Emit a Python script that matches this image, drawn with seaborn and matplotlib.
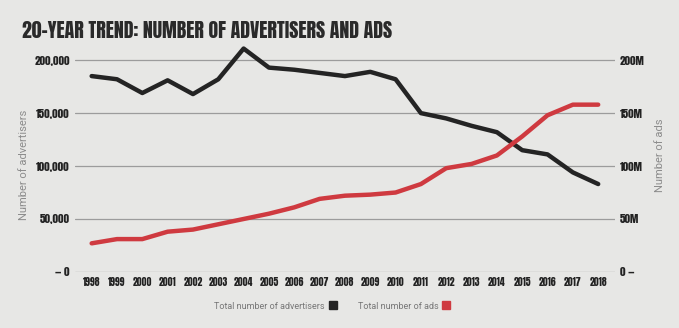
import matplotlib
matplotlib.use('Agg')
import matplotlib.pyplot as plt
import seaborn as sns
import pandas as pd
from matplotlib.lines import Line2D

# ---- data ----
years = list(range(1998, 2019))
advertisers = [185000, 182000, 169000, 181000, 168000, 182000, 211000, 193000,
               191000, 188000, 185000, 189000, 182000, 150000, 145000, 138000,
               132000, 115000, 111000, 94000, 83000]
ads_millions = [27, 31, 31, 38, 40, 45, 50, 55, 61, 69, 72, 73, 75, 83, 98,
                102, 110, 128, 148, 158, 158]
left_ticks = [0, 50000, 100000, 150000, 200000]
left_labels = ['— 0', '50,000', '100,000', '150,000', '200,000']
right_ticks = [0, 50, 100, 150, 200]
right_labels = ['0 —', '50M', '100M', '150M', '200M']
title = '20-YEAR TREND: NUMBER OF ADVERTISERS AND ADS'
legend_labels = ['Total number of advertisers', 'Total number of ads']

df = pd.DataFrame({'year': years, 'advertisers': advertisers, 'ads': ads_millions})

sns.set_theme(style='white')
plt.rcParams['font.family'] = ['Roboto', 'DejaVu Sans']
cond = ['Anton', 'Roboto Condensed', 'DejaVu Sans']

bg = '#e7e7e5'
black = '#242424'
red = '#cf3a40'

fig = plt.figure(figsize=(6.79, 3.28), dpi=100, facecolor=bg)
ax = fig.add_axes([0.110, 0.171, 0.796, 0.71])
ax.set_facecolor(bg)

sns.lineplot(data=df, x='year', y='advertisers', ax=ax, color=black, lw=3.2,
             legend=False)
ax2 = ax.twinx()
sns.lineplot(data=df, x='year', y='ads', ax=ax2, color=red, lw=3.2, legend=False)

ax.set_xlim(1997.33, 2018.67)
ax.set_ylim(0, 220000)
ax2.set_ylim(0, 220)

ax.set_yticks(left_ticks)
ax.set_yticklabels(left_labels, fontfamily=cond, fontsize=8, color='#222222')
ax2.set_yticks(right_ticks)
ax2.set_yticklabels(right_labels, fontfamily=cond, fontsize=8, color='#222222')
ax.set_xticks(years)
ax.set_xticklabels([str(y) for y in years], fontfamily=cond, fontsize=7,
                   color='#222222')

ax.tick_params(axis='both', length=0, pad=3.5)
ax2.tick_params(axis='both', length=0, pad=3.5)
ax.grid(axis='y', color='#9c9c9c', lw=0.9)
ax.grid(axis='x', visible=False)
ax2.grid(False)
for a in (ax, ax2):
    for s in a.spines.values():
        s.set_visible(False)

ax.set_xlabel('')
ax.set_ylabel('Number of advertisers', color='#8c8c8c', fontsize=8)
ax.yaxis.set_label_coords(-0.084, 0.46)
ax2.set_ylabel('Number of ads', color='#8c8c8c', fontsize=8, rotation=90)
ax2.yaxis.set_label_coords(1.074, 0.50)

fig.text(22 / 679, 1 - 31 / 328, title, ha='left', va='center',
         fontfamily=cond, fontsize=14.2, color='#2a2a2a')

handles = [Line2D([], [], marker='s', ls='', color=black, markersize=6,
                  label=legend_labels[0]),
           Line2D([], [], marker='s', ls='', color=red, markersize=6,
                  label=legend_labels[1])]
fig.legend(handles=handles, loc='center', bbox_to_anchor=(0.49, 0.067), ncol=2,
           frameon=False, markerfirst=False, fontsize=6.5, labelcolor='#777777',
           handletextpad=0.4, columnspacing=2.2, handlelength=1)

fig.savefig('out.png', dpi=100, facecolor=bg)
